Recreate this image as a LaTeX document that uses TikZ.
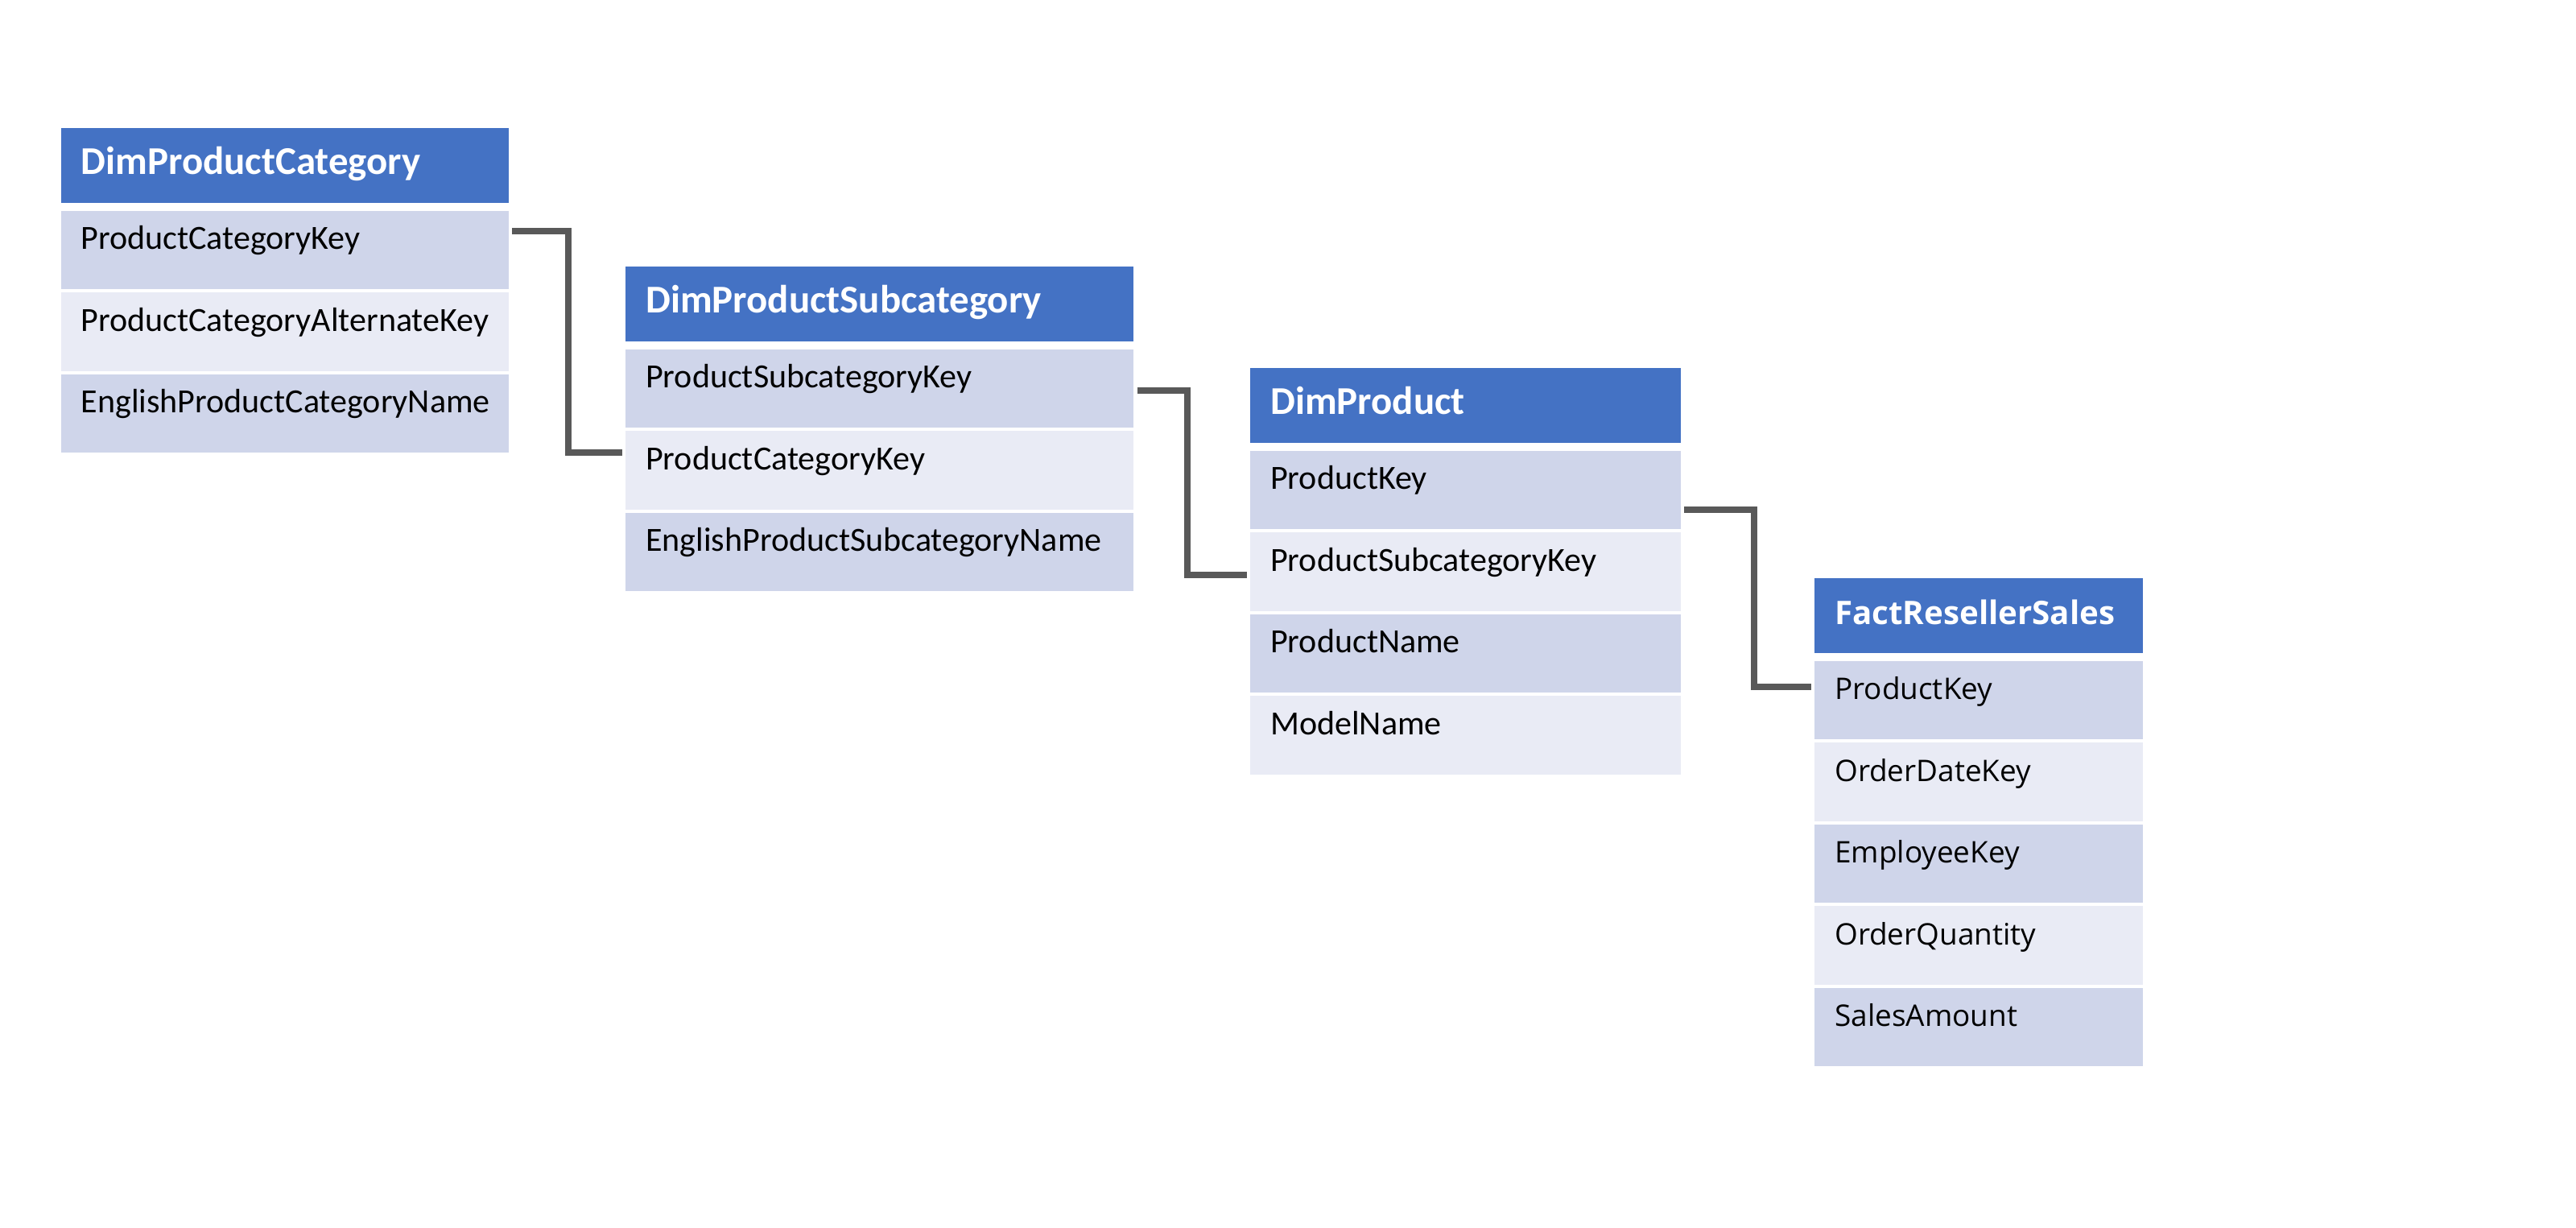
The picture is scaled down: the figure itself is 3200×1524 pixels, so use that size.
\documentclass[tikz,border=0pt]{standalone}
\usepackage{fontspec}
\setmainfont{Carlito}
\newfontfamily\osans{Open Sans}
\definecolor{hdrblue}{HTML}{4472C4}
\definecolor{rowdark}{HTML}{CFD5EA}
\definecolor{rowlight}{HTML}{E9EBF5}
\definecolor{connclr}{HTML}{595959}
\newcommand\calhdr{\fontsize{13.9pt}{16pt}\selectfont\bfseries\color{white}}
\newcommand\calbody{\fontsize{11.95pt}{14pt}\selectfont\color{black}}
\newcommand\oshdr{\osans\fontsize{11.45pt}{14pt}\selectfont\bfseries\color{white}}
\newcommand\osbody{\osans\fontsize{10.5pt}{12pt}\selectfont\color{black}}
% #1 name, #2 x, #3 y, #4 width, #5 header font, #6 body font, #7 title, #8 rows
\newcommand\erTable[8]{%
  \pgfmathsetmacro\erTW{(#4-50)/100}%
  \pgfmathsetmacro\erW{#4/100}%
  \node[hdrbox, text width=\erTW cm, minimum width=\erW cm, font=#5] (#1h) at (#2,#3) {#7};
  \foreach \txt [count=\i] in {#8} {
    \pgfmathsetmacro\ry{#3+103+(\i-1)*101.5}
    \ifodd\i \def\rf{rowdark}\else\def\rf{rowlight}\fi
    \node[rowbox, fill=\rf, text width=\erTW cm, minimum width=\erW cm, font=#6] (#1r\i) at (#2,\ry) {\txt};
  }
}
\tikzset{
  hdrbox/.style={anchor=north west, fill=hdrblue, inner xsep=0.25cm, inner ysep=0pt,
    align=left, text height=0.58cm, text depth=0.35cm},
  rowbox/.style={anchor=north west, inner xsep=0.25cm, inner ysep=0pt,
    align=left, text height=0.48cm, text depth=0.495cm},
  conn/.style={draw=connclr, line width=0.08cm, line join=miter}
}
\begin{document}
\begin{tikzpicture}[x=0.01cm, y=-0.01cm]
\useasboundingbox[fill=white] (0,0) rectangle (3200,1524);

\erTable{t1}{75}{158}{556}{\calhdr}{\calbody}{DimProductCategory}
  {ProductCategoryKey,ProductCategoryAlternateKey,EnglishProductCategoryName}
\erTable{t2}{776.5}{330}{630}{\calhdr}{\calbody}{DimProductSubcategory}
  {ProductSubcategoryKey,ProductCategoryKey,EnglishProductSubcategoryName}
\erTable{t3}{1552.5}{456}{534.5}{\calhdr}{\calbody}{DimProduct}
  {ProductKey,ProductSubcategoryKey,ProductName,ModelName}
\erTable{t4}{2253.5}{717}{407.7}{\oshdr}{\osbody}{FactResellerSales}
  {ProductKey,OrderDateKey,EmployeeKey,OrderQuantity,SalesAmount}

\coordinate (c1a) at ([xshift=0.035cm, yshift=-0.26cm]t1r1.north east);
\coordinate (c1b) at ([xshift=-0.035cm, yshift=-0.27cm]t2r2.north west);
\draw[conn] (c1a) -- ++(69.5,0) |- (c1b);

\coordinate (c2a) at ([xshift=0.047cm, yshift=-0.52cm]t2r1.north east);
\coordinate (c2b) at ([xshift=-0.035cm, yshift=-0.535cm]t3r2.north west);
\draw[conn] (c2a) -- ++(61.8,0) |- (c2b);

\coordinate (c3a) at ([xshift=0.034cm, yshift=-0.738cm]t3r1.north east);
\coordinate (c3b) at ([xshift=-0.04cm, yshift=-0.33cm]t4r1.north west);
\draw[conn] (c3a) -- ++(86.6,0) |- (c3b);
\end{tikzpicture}
\end{document}
